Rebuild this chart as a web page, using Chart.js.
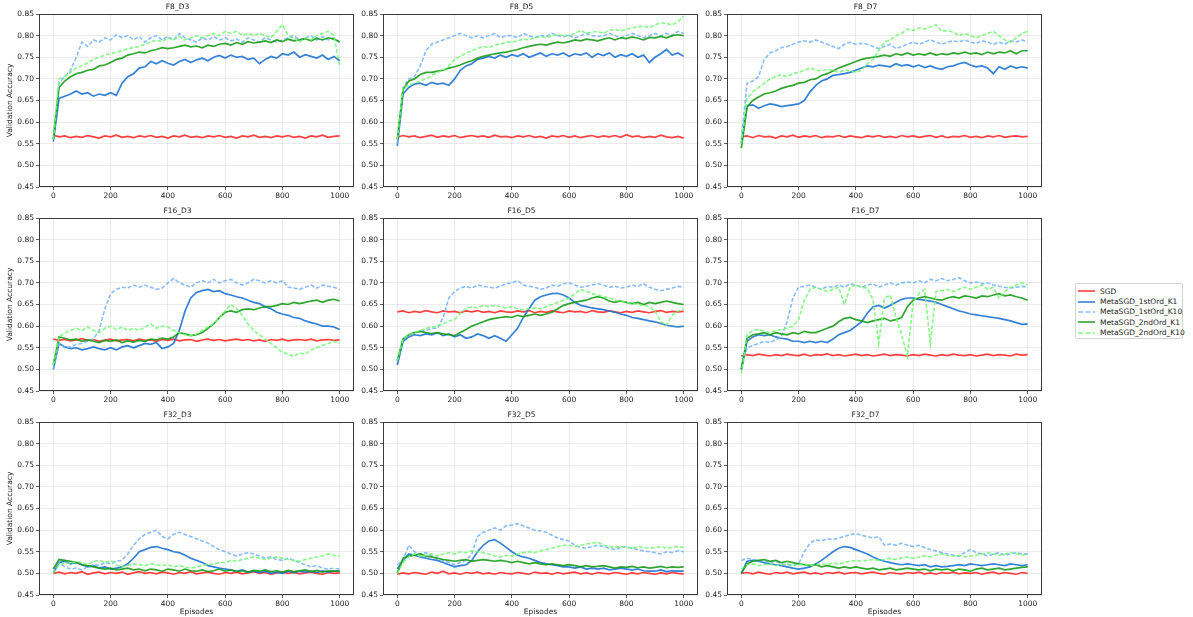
<!DOCTYPE html>
<html>
<head>
<meta charset="utf-8">
<script src="https://cdn.jsdelivr.net/npm/chart.js@4.4.1/dist/chart.umd.min.js"></script>
<style>
body{margin:0;background:#fff;width:1193px;height:617px;position:relative;overflow:hidden;font-family:"DejaVu Sans",sans-serif}
canvas{position:absolute}
#legend{position:absolute;left:1075px;top:283px;width:108px;height:56px;border:1px solid #d4d4d4;border-radius:2px;font-size:7.5px;color:#222;box-sizing:border-box;padding:2px 3px 0 2px;background:#fff}
#legend .row{height:10.4px;display:flex;align-items:center;white-space:nowrap}
#legend svg{margin-right:5px;flex:none}
</style>
</head>
<body>
<div id="legend"></div>
<script>
// episodes sampled every 20
var episodes = [0,20,40,60,80,100,120,140,160,180,
  200,220,240,260,280,300,320,340,360,380,
  400,420,440,460,480,500,520,540,560,580,
  600,620,640,660,680,700,720,740,760,780,
  800,820,840,860,880,900,920,940,960,980,
  1000];

var seriesNames = ['SGD', 'MetaSGD_1stOrd_K1', 'MetaSGD_1stOrd_K10', 'MetaSGD_2ndOrd_K1', 'MetaSGD_2ndOrd_K10'];
var yTicks = [0.45, 0.50, 0.55, 0.60, 0.65, 0.70, 0.75, 0.80, 0.85];
var xTicks = [0, 200, 400, 600, 800, 1000];

// ---- F8_D3
var f8d3_sgd = [0.570,0.566,0.568,0.564,0.567,0.565,0.569,0.566,0.563,0.568,
  0.566,0.570,0.565,0.567,0.564,0.568,0.566,0.569,0.565,0.567,
  0.563,0.568,0.566,0.570,0.565,0.567,0.564,0.568,0.566,0.569,
  0.565,0.567,0.563,0.568,0.566,0.570,0.565,0.567,0.564,0.568,
  0.566,0.569,0.565,0.567,0.563,0.568,0.566,0.570,0.565,0.567,
  0.568];
var f8d3_1st_k1 = [0.555,0.655,0.660,0.665,0.672,0.665,0.668,0.660,0.665,0.662,
  0.668,0.662,0.690,0.705,0.712,0.725,0.728,0.740,0.735,0.742,
  0.736,0.732,0.740,0.745,0.738,0.744,0.748,0.742,0.750,0.754,
  0.748,0.755,0.750,0.752,0.745,0.748,0.735,0.745,0.752,0.748,
  0.758,0.755,0.762,0.750,0.756,0.752,0.748,0.755,0.745,0.752,
  0.742];
var f8d3_1st_k10 = [0.560,0.690,0.705,0.720,0.750,0.785,0.775,0.790,0.785,0.795,
  0.790,0.802,0.795,0.800,0.790,0.798,0.785,0.795,0.800,0.790,
  0.798,0.790,0.805,0.795,0.790,0.785,0.795,0.790,0.798,0.790,
  0.795,0.788,0.792,0.785,0.795,0.790,0.785,0.795,0.790,0.785,
  0.790,0.795,0.800,0.790,0.795,0.800,0.790,0.798,0.790,0.795,
  0.785];
var f8d3_2nd_k1 = [0.560,0.680,0.695,0.705,0.712,0.715,0.720,0.722,0.730,0.732,
  0.738,0.745,0.748,0.755,0.758,0.762,0.760,0.765,0.768,0.772,
  0.770,0.772,0.775,0.778,0.774,0.776,0.772,0.778,0.775,0.780,
  0.782,0.778,0.784,0.780,0.786,0.783,0.785,0.788,0.784,0.790,
  0.786,0.792,0.788,0.790,0.793,0.788,0.794,0.790,0.795,0.792,
  0.785];
var f8d3_2nd_k10 = [0.560,0.700,0.705,0.715,0.725,0.730,0.738,0.745,0.750,0.755,
  0.758,0.762,0.765,0.770,0.772,0.775,0.780,0.785,0.790,0.785,
  0.795,0.790,0.798,0.790,0.795,0.800,0.795,0.800,0.805,0.800,
  0.810,0.805,0.810,0.800,0.805,0.800,0.805,0.800,0.795,0.810,
  0.825,0.800,0.795,0.785,0.795,0.790,0.800,0.805,0.810,0.800,
  0.730];

// ---- F8_D5
var f8d5_sgd = [0.565,0.569,0.566,0.568,0.564,0.567,0.570,0.565,0.568,0.566,
  0.569,0.564,0.567,0.569,0.566,0.568,0.565,0.570,0.566,0.567,
  0.564,0.568,0.566,0.569,0.565,0.567,0.563,0.568,0.566,0.569,
  0.565,0.568,0.564,0.567,0.569,0.565,0.568,0.566,0.569,0.565,
  0.571,0.566,0.568,0.564,0.567,0.565,0.570,0.566,0.564,0.567,
  0.563];
var f8d5_1st_k1 = [0.545,0.665,0.680,0.688,0.690,0.685,0.692,0.688,0.690,0.685,
  0.700,0.720,0.730,0.735,0.745,0.748,0.752,0.748,0.755,0.750,
  0.756,0.752,0.758,0.750,0.755,0.760,0.752,0.758,0.755,0.760,
  0.752,0.758,0.755,0.760,0.750,0.758,0.754,0.760,0.750,0.756,
  0.752,0.758,0.750,0.755,0.738,0.750,0.758,0.768,0.755,0.760,
  0.752];
var f8d5_1st_k10 = [0.550,0.680,0.700,0.705,0.730,0.765,0.780,0.785,0.790,0.795,
  0.800,0.805,0.800,0.795,0.800,0.795,0.800,0.805,0.795,0.800,
  0.800,0.795,0.805,0.800,0.795,0.800,0.798,0.805,0.800,0.798,
  0.800,0.795,0.800,0.805,0.800,0.798,0.800,0.805,0.800,0.795,
  0.800,0.805,0.800,0.795,0.800,0.805,0.800,0.805,0.800,0.810,
  0.805];
var f8d5_2nd_k1 = [0.560,0.675,0.695,0.700,0.710,0.715,0.715,0.718,0.720,0.725,
  0.728,0.732,0.738,0.742,0.748,0.752,0.755,0.758,0.760,0.762,
  0.765,0.768,0.772,0.775,0.778,0.780,0.778,0.782,0.785,0.783,
  0.786,0.790,0.788,0.792,0.790,0.788,0.792,0.795,0.790,0.795,
  0.793,0.797,0.794,0.790,0.796,0.795,0.798,0.795,0.800,0.802,
  0.800];
var f8d5_2nd_k10 = [0.560,0.680,0.685,0.690,0.695,0.700,0.708,0.715,0.720,0.730,
  0.745,0.752,0.760,0.765,0.770,0.775,0.772,0.778,0.780,0.785,
  0.785,0.788,0.792,0.790,0.795,0.798,0.795,0.800,0.802,0.800,
  0.800,0.805,0.812,0.805,0.808,0.810,0.805,0.812,0.815,0.810,
  0.815,0.818,0.820,0.822,0.818,0.825,0.830,0.828,0.825,0.832,
  0.845];

// ---- F8_D7
var f8d7_sgd = [0.566,0.568,0.564,0.569,0.566,0.567,0.563,0.568,0.566,0.570,
  0.565,0.568,0.566,0.569,0.564,0.567,0.566,0.569,0.565,0.568,
  0.566,0.564,0.568,0.566,0.569,0.565,0.567,0.564,0.569,0.566,
  0.568,0.565,0.567,0.569,0.565,0.568,0.564,0.567,0.566,0.569,
  0.565,0.567,0.564,0.568,0.566,0.569,0.565,0.567,0.568,0.566,
  0.567];
var f8d7_1st_k1 = [0.550,0.638,0.640,0.632,0.638,0.642,0.640,0.636,0.638,0.640,
  0.642,0.650,0.670,0.685,0.695,0.700,0.708,0.710,0.712,0.715,
  0.720,0.725,0.730,0.728,0.732,0.730,0.728,0.735,0.730,0.733,
  0.728,0.732,0.726,0.730,0.725,0.722,0.728,0.730,0.735,0.738,
  0.732,0.728,0.730,0.725,0.712,0.728,0.722,0.730,0.725,0.728,
  0.725];
var f8d7_1st_k10 = [0.560,0.690,0.695,0.705,0.745,0.760,0.765,0.772,0.775,0.780,
  0.785,0.788,0.785,0.790,0.785,0.780,0.775,0.770,0.780,0.785,
  0.780,0.782,0.780,0.775,0.770,0.775,0.780,0.770,0.775,0.780,
  0.785,0.780,0.785,0.790,0.785,0.780,0.785,0.788,0.785,0.790,
  0.785,0.782,0.788,0.785,0.780,0.785,0.780,0.788,0.785,0.790,
  0.785];
var f8d7_2nd_k1 = [0.540,0.635,0.650,0.658,0.665,0.668,0.672,0.678,0.682,0.685,
  0.690,0.692,0.698,0.700,0.708,0.712,0.718,0.725,0.730,0.735,
  0.740,0.745,0.748,0.750,0.752,0.755,0.752,0.758,0.755,0.760,
  0.755,0.758,0.755,0.760,0.755,0.758,0.756,0.760,0.758,0.762,
  0.758,0.760,0.756,0.762,0.758,0.762,0.760,0.765,0.758,0.765,
  0.765];
var f8d7_2nd_k10 = [0.550,0.655,0.670,0.680,0.690,0.700,0.705,0.710,0.705,0.712,
  0.715,0.720,0.725,0.720,0.718,0.722,0.720,0.715,0.720,0.718,
  0.715,0.720,0.735,0.745,0.765,0.785,0.790,0.800,0.805,0.815,
  0.812,0.818,0.815,0.820,0.825,0.810,0.812,0.808,0.800,0.805,
  0.800,0.795,0.800,0.805,0.810,0.800,0.790,0.785,0.795,0.805,
  0.810];

// ---- F16_D3
var f16d3_sgd = [0.570,0.567,0.569,0.566,0.568,0.571,0.567,0.569,0.565,0.568,
  0.570,0.566,0.568,0.569,0.566,0.570,0.567,0.568,0.565,0.569,
  0.567,0.570,0.566,0.568,0.569,0.565,0.568,0.570,0.567,0.569,
  0.566,0.568,0.570,0.567,0.569,0.566,0.568,0.565,0.569,0.567,
  0.570,0.566,0.568,0.569,0.567,0.570,0.566,0.568,0.569,0.567,
  0.568];
var f16d3_1st_k1 = [0.500,0.560,0.552,0.548,0.550,0.545,0.548,0.552,0.548,0.545,
  0.550,0.545,0.552,0.555,0.550,0.555,0.560,0.558,0.562,0.548,
  0.552,0.560,0.590,0.635,0.665,0.678,0.682,0.685,0.680,0.682,
  0.675,0.672,0.668,0.665,0.660,0.655,0.652,0.645,0.640,0.632,
  0.628,0.625,0.620,0.618,0.612,0.608,0.605,0.600,0.600,0.598,
  0.592];
var f16d3_1st_k10 = [0.500,0.560,0.550,0.552,0.558,0.560,0.565,0.570,0.590,0.640,
  0.675,0.685,0.690,0.688,0.695,0.690,0.695,0.690,0.685,0.688,
  0.700,0.710,0.700,0.695,0.690,0.700,0.705,0.700,0.708,0.700,
  0.705,0.708,0.700,0.695,0.700,0.708,0.705,0.700,0.705,0.700,
  0.705,0.690,0.688,0.685,0.690,0.695,0.688,0.695,0.692,0.690,
  0.685];
var f16d3_2nd_k1 = [0.510,0.575,0.572,0.568,0.570,0.565,0.568,0.565,0.562,0.567,
  0.565,0.568,0.562,0.566,0.563,0.567,0.565,0.570,0.568,0.572,
  0.570,0.575,0.585,0.582,0.578,0.580,0.585,0.595,0.605,0.620,
  0.632,0.635,0.632,0.638,0.640,0.638,0.642,0.645,0.645,0.648,
  0.652,0.650,0.655,0.652,0.655,0.658,0.660,0.655,0.660,0.662,
  0.658];
var f16d3_2nd_k10 = [0.510,0.575,0.585,0.590,0.595,0.590,0.598,0.590,0.585,0.595,
  0.600,0.592,0.598,0.590,0.595,0.590,0.598,0.605,0.595,0.600,
  0.598,0.590,0.585,0.580,0.578,0.582,0.590,0.598,0.605,0.620,
  0.635,0.650,0.640,0.625,0.605,0.590,0.580,0.570,0.560,0.550,
  0.540,0.535,0.530,0.538,0.535,0.545,0.550,0.555,0.560,0.565,
  0.560];

// ---- F16_D5
var f16d5_sgd = [0.633,0.635,0.631,0.634,0.632,0.636,0.633,0.631,0.635,0.633,
  0.634,0.631,0.635,0.633,0.636,0.632,0.634,0.631,0.635,0.633,
  0.632,0.635,0.633,0.636,0.631,0.634,0.632,0.635,0.633,0.631,
  0.635,0.633,0.634,0.631,0.636,0.633,0.632,0.635,0.633,0.631,
  0.634,0.632,0.635,0.633,0.631,0.634,0.636,0.632,0.634,0.633,
  0.634];
var f16d5_1st_k1 = [0.510,0.565,0.575,0.580,0.578,0.582,0.580,0.585,0.578,0.582,
  0.575,0.580,0.572,0.575,0.582,0.578,0.572,0.578,0.572,0.565,
  0.580,0.595,0.620,0.640,0.660,0.668,0.672,0.675,0.676,0.672,
  0.665,0.655,0.648,0.645,0.642,0.640,0.638,0.635,0.632,0.628,
  0.625,0.620,0.618,0.615,0.612,0.610,0.606,0.602,0.600,0.598,
  0.600];
var f16d5_1st_k10 = [0.520,0.570,0.580,0.585,0.588,0.590,0.595,0.595,0.620,0.665,
  0.680,0.688,0.692,0.688,0.695,0.692,0.690,0.688,0.692,0.698,
  0.700,0.705,0.695,0.692,0.690,0.685,0.688,0.695,0.692,0.698,
  0.700,0.695,0.690,0.692,0.695,0.698,0.695,0.690,0.692,0.688,
  0.690,0.695,0.692,0.698,0.690,0.685,0.682,0.685,0.688,0.692,
  0.690];
var f16d5_2nd_k1 = [0.520,0.570,0.580,0.585,0.588,0.585,0.583,0.585,0.582,0.580,
  0.578,0.585,0.592,0.600,0.605,0.610,0.615,0.618,0.620,0.622,
  0.620,0.625,0.622,0.625,0.628,0.625,0.628,0.632,0.640,0.648,
  0.652,0.655,0.658,0.660,0.665,0.668,0.665,0.658,0.655,0.658,
  0.655,0.652,0.655,0.650,0.655,0.652,0.655,0.658,0.655,0.652,
  0.650];
var f16d5_2nd_k10 = [0.520,0.570,0.580,0.585,0.590,0.595,0.598,0.600,0.605,0.612,
  0.615,0.630,0.640,0.645,0.642,0.648,0.645,0.648,0.645,0.642,
  0.645,0.640,0.638,0.640,0.642,0.640,0.645,0.650,0.655,0.660,
  0.665,0.675,0.685,0.680,0.675,0.672,0.668,0.665,0.660,0.658,
  0.655,0.652,0.650,0.648,0.645,0.635,0.610,0.602,0.625,0.635,
  0.640];

// ---- F16_D7
var f16d7_sgd = [0.531,0.534,0.532,0.535,0.533,0.531,0.534,0.532,0.535,0.533,
  0.532,0.535,0.531,0.534,0.533,0.536,0.532,0.534,0.531,0.533,
  0.535,0.532,0.534,0.531,0.533,0.535,0.532,0.534,0.533,0.531,
  0.534,0.532,0.535,0.533,0.531,0.534,0.532,0.535,0.533,0.532,
  0.534,0.531,0.533,0.535,0.532,0.534,0.533,0.531,0.535,0.533,
  0.534];
var f16d7_1st_k1 = [0.500,0.565,0.575,0.580,0.578,0.580,0.575,0.572,0.570,0.565,
  0.565,0.562,0.565,0.562,0.565,0.562,0.570,0.580,0.585,0.590,
  0.600,0.610,0.630,0.645,0.648,0.642,0.648,0.655,0.662,0.665,
  0.665,0.662,0.660,0.658,0.655,0.650,0.645,0.640,0.635,0.632,
  0.628,0.626,0.624,0.622,0.620,0.618,0.615,0.612,0.608,0.604,
  0.605];
var f16d7_1st_k10 = [0.500,0.550,0.555,0.560,0.565,0.562,0.568,0.575,0.610,0.665,
  0.690,0.692,0.695,0.690,0.685,0.692,0.690,0.695,0.690,0.698,
  0.695,0.690,0.695,0.698,0.690,0.695,0.700,0.695,0.700,0.702,
  0.700,0.705,0.700,0.708,0.705,0.710,0.705,0.708,0.712,0.705,
  0.700,0.702,0.698,0.700,0.695,0.692,0.690,0.688,0.690,0.692,
  0.690];
var f16d7_2nd_k1 = [0.500,0.572,0.580,0.582,0.585,0.580,0.585,0.582,0.580,0.585,
  0.582,0.588,0.585,0.585,0.590,0.595,0.600,0.610,0.618,0.620,
  0.615,0.612,0.608,0.612,0.615,0.618,0.612,0.615,0.620,0.645,
  0.660,0.665,0.668,0.665,0.662,0.660,0.665,0.668,0.665,0.670,
  0.668,0.665,0.670,0.668,0.672,0.675,0.670,0.672,0.668,0.665,
  0.660];
var f16d7_2nd_k10 = [0.490,0.580,0.590,0.592,0.588,0.585,0.590,0.592,0.595,0.600,
  0.615,0.660,0.685,0.690,0.685,0.680,0.685,0.690,0.650,0.690,
  0.695,0.690,0.688,0.660,0.560,0.665,0.672,0.620,0.580,0.530,
  0.655,0.675,0.685,0.560,0.680,0.682,0.685,0.680,0.685,0.690,
  0.685,0.690,0.695,0.685,0.690,0.665,0.680,0.690,0.695,0.700,
  0.695];

// ---- F32_D3
var f32d3_sgd = [0.500,0.503,0.499,0.502,0.500,0.504,0.498,0.501,0.503,0.499,
  0.502,0.500,0.503,0.498,0.501,0.504,0.500,0.502,0.499,0.503,
  0.501,0.498,0.502,0.500,0.504,0.499,0.501,0.503,0.500,0.498,
  0.502,0.500,0.503,0.499,0.501,0.504,0.500,0.502,0.498,0.501,
  0.503,0.500,0.502,0.499,0.501,0.503,0.500,0.498,0.502,0.500,
  0.501];
var f32d3_1st_k1 = [0.500,0.525,0.528,0.522,0.525,0.520,0.515,0.518,0.512,0.515,
  0.510,0.512,0.515,0.522,0.535,0.550,0.555,0.560,0.562,0.558,
  0.555,0.550,0.548,0.542,0.535,0.530,0.525,0.518,0.515,0.512,
  0.510,0.508,0.505,0.508,0.503,0.505,0.502,0.505,0.500,0.503,
  0.500,0.505,0.502,0.505,0.503,0.505,0.502,0.506,0.503,0.505,
  0.505];
var f32d3_1st_k10 = [0.510,0.525,0.515,0.510,0.512,0.508,0.515,0.520,0.518,0.525,
  0.522,0.528,0.530,0.545,0.565,0.580,0.590,0.595,0.600,0.585,
  0.580,0.590,0.595,0.590,0.585,0.580,0.575,0.570,0.562,0.555,
  0.550,0.545,0.540,0.545,0.548,0.545,0.540,0.535,0.538,0.532,
  0.530,0.535,0.530,0.525,0.520,0.515,0.518,0.512,0.510,0.512,
  0.510];
var f32d3_2nd_k1 = [0.510,0.532,0.530,0.528,0.525,0.520,0.518,0.515,0.512,0.510,
  0.512,0.508,0.510,0.512,0.508,0.510,0.506,0.510,0.508,0.505,
  0.510,0.508,0.505,0.510,0.506,0.505,0.508,0.504,0.506,0.510,
  0.505,0.508,0.504,0.506,0.503,0.507,0.505,0.508,0.504,0.506,
  0.503,0.507,0.504,0.506,0.508,0.504,0.507,0.503,0.506,0.505,
  0.505];
var f32d3_2nd_k10 = [0.500,0.520,0.525,0.522,0.528,0.525,0.520,0.528,0.530,0.525,
  0.530,0.520,0.515,0.518,0.522,0.520,0.518,0.522,0.520,0.518,
  0.520,0.515,0.518,0.515,0.512,0.515,0.518,0.520,0.522,0.525,
  0.525,0.530,0.528,0.532,0.535,0.538,0.535,0.532,0.535,0.538,
  0.535,0.532,0.530,0.528,0.532,0.535,0.538,0.540,0.545,0.542,
  0.540];

// ---- F32_D5
var f32d5_sgd = [0.498,0.501,0.499,0.502,0.500,0.498,0.503,0.500,0.505,0.499,
  0.501,0.498,0.502,0.500,0.503,0.499,0.501,0.498,0.502,0.500,
  0.499,0.502,0.500,0.498,0.503,0.500,0.501,0.498,0.502,0.499,
  0.501,0.503,0.499,0.501,0.498,0.502,0.500,0.499,0.502,0.500,
  0.498,0.501,0.499,0.502,0.500,0.498,0.501,0.499,0.502,0.500,
  0.499];
var f32d5_1st_k1 = [0.510,0.530,0.545,0.542,0.538,0.535,0.532,0.530,0.525,0.520,
  0.515,0.518,0.520,0.530,0.550,0.565,0.575,0.578,0.570,0.560,
  0.550,0.542,0.538,0.535,0.530,0.525,0.522,0.520,0.518,0.515,
  0.515,0.512,0.515,0.510,0.512,0.510,0.512,0.508,0.510,0.512,
  0.510,0.508,0.510,0.506,0.505,0.505,0.508,0.504,0.506,0.505,
  0.505];
var f32d5_1st_k10 = [0.520,0.530,0.565,0.550,0.545,0.548,0.540,0.535,0.530,0.525,
  0.520,0.525,0.530,0.545,0.585,0.595,0.600,0.605,0.600,0.610,
  0.612,0.615,0.610,0.605,0.600,0.598,0.595,0.588,0.582,0.578,
  0.575,0.565,0.560,0.558,0.562,0.565,0.562,0.558,0.555,0.560,
  0.562,0.558,0.555,0.552,0.550,0.548,0.545,0.550,0.548,0.552,
  0.550];
var f32d5_2nd_k1 = [0.500,0.535,0.540,0.542,0.545,0.540,0.538,0.535,0.532,0.530,
  0.528,0.530,0.532,0.528,0.530,0.532,0.530,0.528,0.530,0.528,
  0.525,0.528,0.525,0.522,0.525,0.522,0.520,0.522,0.520,0.518,
  0.520,0.518,0.515,0.518,0.515,0.516,0.518,0.515,0.512,0.515,
  0.514,0.516,0.513,0.515,0.512,0.514,0.516,0.513,0.515,0.514,
  0.515];
var f32d5_2nd_k10 = [0.500,0.525,0.538,0.545,0.540,0.542,0.545,0.540,0.545,0.548,
  0.545,0.550,0.548,0.552,0.550,0.548,0.545,0.540,0.538,0.542,
  0.540,0.545,0.548,0.550,0.548,0.552,0.555,0.558,0.562,0.565,
  0.565,0.562,0.565,0.568,0.570,0.572,0.565,0.562,0.560,0.562,
  0.560,0.558,0.562,0.560,0.558,0.560,0.562,0.558,0.560,0.562,
  0.560];

// ---- F32_D7
var f32d7_sgd = [0.500,0.502,0.499,0.503,0.500,0.498,0.502,0.500,0.503,0.499,
  0.501,0.503,0.499,0.501,0.498,0.502,0.500,0.503,0.499,0.501,
  0.502,0.499,0.501,0.503,0.500,0.498,0.502,0.500,0.499,0.502,
  0.500,0.503,0.499,0.501,0.498,0.502,0.500,0.503,0.499,0.501,
  0.500,0.502,0.498,0.501,0.503,0.499,0.502,0.500,0.498,0.502,
  0.500];
var f32d7_1st_k1 = [0.500,0.528,0.530,0.528,0.525,0.522,0.520,0.518,0.515,0.512,
  0.510,0.512,0.515,0.522,0.530,0.540,0.550,0.558,0.562,0.560,
  0.555,0.550,0.545,0.538,0.532,0.528,0.525,0.522,0.520,0.522,
  0.520,0.518,0.520,0.515,0.518,0.515,0.516,0.518,0.520,0.518,
  0.522,0.520,0.518,0.520,0.522,0.520,0.518,0.522,0.520,0.518,
  0.520];
var f32d7_1st_k10 = [0.530,0.535,0.532,0.530,0.528,0.525,0.528,0.522,0.520,0.518,
  0.522,0.550,0.570,0.578,0.575,0.580,0.578,0.582,0.585,0.590,
  0.592,0.588,0.585,0.582,0.585,0.565,0.568,0.565,0.570,0.565,
  0.562,0.565,0.560,0.555,0.552,0.548,0.545,0.542,0.540,0.548,
  0.555,0.548,0.545,0.540,0.545,0.548,0.542,0.545,0.548,0.545,
  0.545];
var f32d7_2nd_k1 = [0.500,0.522,0.528,0.530,0.532,0.528,0.530,0.525,0.528,0.525,
  0.522,0.520,0.518,0.520,0.515,0.518,0.515,0.512,0.515,0.512,
  0.515,0.512,0.510,0.512,0.508,0.510,0.512,0.508,0.510,0.512,
  0.510,0.508,0.510,0.506,0.510,0.508,0.510,0.506,0.510,0.508,
  0.505,0.510,0.512,0.508,0.510,0.512,0.508,0.510,0.512,0.514,
  0.515];
var f32d7_2nd_k10 = [0.510,0.520,0.522,0.518,0.520,0.522,0.518,0.520,0.522,0.518,
  0.520,0.522,0.518,0.520,0.522,0.520,0.524,0.522,0.525,0.528,
  0.530,0.528,0.530,0.532,0.530,0.532,0.535,0.532,0.535,0.538,
  0.535,0.538,0.540,0.538,0.542,0.545,0.542,0.540,0.542,0.538,
  0.540,0.542,0.545,0.548,0.545,0.542,0.545,0.548,0.545,0.542,
  0.545];

var panels = [
  { title: 'F8_D3', series: [f8d3_sgd, f8d3_1st_k1, f8d3_1st_k10, f8d3_2nd_k1, f8d3_2nd_k10] },
  { title: 'F8_D5', series: [f8d5_sgd, f8d5_1st_k1, f8d5_1st_k10, f8d5_2nd_k1, f8d5_2nd_k10] },
  { title: 'F8_D7', series: [f8d7_sgd, f8d7_1st_k1, f8d7_1st_k10, f8d7_2nd_k1, f8d7_2nd_k10] },
  { title: 'F16_D3', series: [f16d3_sgd, f16d3_1st_k1, f16d3_1st_k10, f16d3_2nd_k1, f16d3_2nd_k10] },
  { title: 'F16_D5', series: [f16d5_sgd, f16d5_1st_k1, f16d5_1st_k10, f16d5_2nd_k1, f16d5_2nd_k10] },
  { title: 'F16_D7', series: [f16d7_sgd, f16d7_1st_k1, f16d7_1st_k10, f16d7_2nd_k1, f16d7_2nd_k10] },
  { title: 'F32_D3', series: [f32d3_sgd, f32d3_1st_k1, f32d3_1st_k10, f32d3_2nd_k1, f32d3_2nd_k10] },
  { title: 'F32_D5', series: [f32d5_sgd, f32d5_1st_k1, f32d5_1st_k10, f32d5_2nd_k1, f32d5_2nd_k10] },
  { title: 'F32_D7', series: [f32d7_sgd, f32d7_1st_k1, f32d7_1st_k10, f32d7_2nd_k1, f32d7_2nd_k10] }
];

var colors = ['rgba(255,30,30,0.85)', 'rgba(30,115,210,0.9)', 'rgba(120,182,255,0.9)', 'rgba(25,155,25,0.9)', 'rgba(110,250,110,0.85)'];
var dashes = [[], [], [4, 2], [], [4, 2]];
var widths = [1.7, 1.7, 1.6, 1.7, 1.6];

var FONT = '"DejaVu Sans", sans-serif';
var colX = [39, 383, 727], rowY = [14, 218, 422];
var plotW = 315, plotH = 173, YW = 38, TH = 14;

var framePlugin = {
  id: 'frame',
  afterDraw: function(chart) {
    var a = chart.chartArea, ctx = chart.ctx;
    ctx.save();
    ctx.strokeStyle = '#3a3a3a';
    ctx.lineWidth = 1;
    ctx.strokeRect(Math.round(a.left) + 0.5, Math.round(a.top) + 0.5, Math.round(a.right - a.left) - 1, Math.round(a.bottom - a.top) - 1);
    ctx.restore();
  }
};

panels.forEach(function(p, i) {
  var r = Math.floor(i / 3), c = i % 3;
  var XH = r === 2 ? 22 : 14;
  var w = YW + plotW + 6, h = TH + plotH + XH;
  var cv = document.createElement('canvas');
  cv.width = w; cv.height = h;
  cv.style.left = (colX[c] - YW) + 'px';
  cv.style.top = (rowY[r] - TH) + 'px';
  cv.style.width = w + 'px'; cv.style.height = h + 'px';
  document.body.appendChild(cv);

  var datasets = p.series.map(function(vals, k) {
    return {
      label: seriesNames[k],
      data: episodes.map(function(e, j) { return { x: e, y: vals[j] }; }),
      borderColor: colors[k],
      borderWidth: widths[k],
      borderDash: dashes[k],
      pointRadius: 0,
      tension: 0,
      fill: false,
      order: 5 - k
    };
  });

  new Chart(cv.getContext('2d'), {
    type: 'line',
    data: { datasets: datasets },
    plugins: [framePlugin],
    options: {
      responsive: false,
      animation: false,
      devicePixelRatio: 1,
      layout: { padding: { left: 0, right: 6, top: 0, bottom: 0 } },
      plugins: {
        legend: { display: false },
        tooltip: { enabled: false },
        title: { display: true, text: p.title, color: '#222', font: { family: FONT, size: 7.5, weight: 'normal' }, padding: { top: 3, bottom: 2 } }
      },
      scales: {
        x: {
          type: 'linear', min: -50, max: 1050,
          afterFit: function(s) { s.height = XH; },
          afterBuildTicks: function(s) { s.ticks = xTicks.map(function(v) { return { value: v }; }); },
          ticks: { color: '#222', font: { family: FONT, size: 7.5 }, padding: 2, maxRotation: 0, includeBounds: false, callback: function(v) { return String(v); } },
          grid: { color: 'rgba(0,0,0,0.1)', lineWidth: 0.8, tickColor: '#333', tickLength: 3 },
          border: { display: false },
          title: { display: r === 2, text: 'Episodes', color: '#222', font: { family: FONT, size: 7.5 }, padding: { top: 0, bottom: 0.5 } }
        },
        y: {
          type: 'linear', min: 0.45, max: 0.85,
          afterFit: function(s) { s.width = YW; },
          afterBuildTicks: function(s) { s.ticks = yTicks.map(function(v) { return { value: v }; }); },
          ticks: { color: '#222', font: { family: FONT, size: 7.5 }, padding: 2, callback: function(v) { return v.toFixed(2); } },
          grid: { color: 'rgba(0,0,0,0.1)', lineWidth: 0.8, tickColor: '#333', tickLength: 3 },
          border: { display: false },
          title: { display: c === 0, text: 'Validation Accuracy', color: '#222', font: { family: FONT, size: 7.5 }, padding: { top: 5, bottom: 0 } }
        }
      }
    }
  });
});

// legend
var legend = document.getElementById('legend');
seriesNames.forEach(function(name, k) {
  var row = document.createElement('div');
  row.className = 'row';
  row.innerHTML = '<svg width="17" height="4"><line x1="0" y1="2" x2="17" y2="2" stroke="' + colors[k] + '" stroke-width="1.6"' +
    (dashes[k].length ? ' stroke-dasharray="5,2.5"' : '') + '/></svg><span>' + name + '</span>';
  legend.appendChild(row);
});
</script>
</body>
</html>
